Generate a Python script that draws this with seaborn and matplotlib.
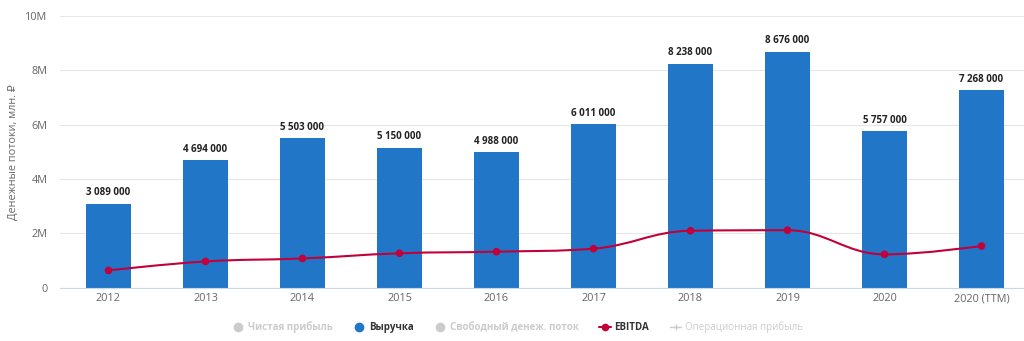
import numpy as np
import pandas as pd
import matplotlib
matplotlib.use("Agg")
import matplotlib.pyplot as plt
from matplotlib.path import Path
from matplotlib.patches import PathPatch
from matplotlib.lines import Line2D
import seaborn as sns

years = ["2012", "2013", "2014", "2015", "2016", "2017", "2018", "2019", "2020", "2020 (TTM)"]
revenue = [3089000, 4694000, 5503000, 5150000, 4988000, 6011000, 8238000, 8676000, 5757000, 7268000]
ebitda = [630000, 960000, 1070000, 1260000, 1320000, 1430000, 2090000, 2110000, 1220000, 1530000]
y_ticks = [0, 2e6, 4e6, 6e6, 8e6, 10e6]
y_tick_labels = ["0", "2M", "4M", "6M", "8M", "10M"]
y_label = "Денежные потоки, млн. ₽"
legend_labels = ["Чистая прибыль", "Выручка", "Свободный денеж. поток", "EBITDA", "Операционная прибыль"]

BAR = "#2176c7"
RED = "#c2003a"
GRAY_TXT = "#666666"
FADED = "#cccccc"

sns.set_theme(style="white")
plt.rcParams["font.family"] = ["Open Sans", "DejaVu Sans"]

fig = plt.figure(figsize=(10.24, 3.41), dpi=100)
ax = fig.add_axes([60/1024, (341-287.5)/341, (1030-60)/1024, (287.5-16)/341])

df = pd.DataFrame({"year": years, "revenue": revenue, "ebitda": ebitda})
sns.barplot(data=df, x="year", y="revenue", color=BAR, width=0.47, saturation=1,
            ax=ax, zorder=2, edgecolor="none")

# data labels
for i, v in enumerate(revenue):
    ax.annotate(f"{v:,}".replace(",", " "), (i, v), xytext=(0, 4), textcoords="offset points",
                ha="center", va="bottom", fontsize=7, fontweight="bold", color="#222222", zorder=5)

# Highcharts-style spline for EBITDA
xs = np.arange(len(ebitda), dtype=float)
ys = np.array(ebitda, dtype=float)
s = 1.5
verts = [(xs[0], ys[0])]
codes = [Path.MOVETO]
lefts, rights = [None]*len(xs), [None]*len(xs)
for i in range(1, len(xs)-1):
    lx = (s*xs[i] + xs[i-1])/(s+1); ly = (s*ys[i] + ys[i-1])/(s+1)
    rx = (s*xs[i] + xs[i+1])/(s+1); ry = (s*ys[i] + ys[i+1])/(s+1)
    corr = ((ry - ly)*(rx - xs[i]))/(rx - lx) + ys[i] - ry
    ly += corr; ry += corr
    if ly > ys[i-1] and ly > ys[i]:
        ly = max(ys[i-1], ys[i]); ry = 2*ys[i] - ly
    elif ly < ys[i-1] and ly < ys[i]:
        ly = min(ys[i-1], ys[i]); ry = 2*ys[i] - ly
    if ry > ys[i+1] and ry > ys[i]:
        ry = max(ys[i+1], ys[i]); ly = 2*ys[i] - ry
    elif ry < ys[i+1] and ry < ys[i]:
        ry = min(ys[i+1], ys[i]); ly = 2*ys[i] - ry
    lefts[i] = (lx, ly); rights[i] = (rx, ry)
for i in range(1, len(xs)):
    c1 = rights[i-1] if rights[i-1] is not None else (xs[i-1], ys[i-1])
    c2 = lefts[i] if lefts[i] is not None else (xs[i], ys[i])
    verts += [c1, c2, (xs[i], ys[i])]
    codes += [Path.CURVE4]*3
ax.add_patch(PathPatch(Path(verts, codes), facecolor="none", edgecolor=RED, lw=1.5, zorder=3))
sns.scatterplot(x=xs, y=ys, color=RED, s=30, edgecolor="none", ax=ax, zorder=4, legend=False)

ax.set_xlim(-0.5, 9.5)
ax.set_ylim(0, 10e6)
ax.set_yticks(y_ticks)
ax.set_yticklabels(y_tick_labels)
ax.grid(axis="y", color="#e6e6e6", lw=0.8, zorder=0)
ax.set_axisbelow(True)
for sp in ["top", "right", "left"]:
    ax.spines[sp].set_visible(False)
ax.spines["bottom"].set_color("#ccd6eb")
ax.spines["bottom"].set_linewidth(0.8)
ax.tick_params(axis="both", length=0, labelsize=7.8, colors=GRAY_TXT)
ax.tick_params(axis="x", pad=4)
ax.tick_params(axis="y", pad=9)
ax.set_xlabel("")
ax.set_ylabel(y_label, fontsize=7.8, color=GRAY_TXT)
ax.yaxis.set_label_coords(-41/970, 0.5)

handles = [
    Line2D([], [], marker="o", ls="none", color=FADED, markersize=6),
    Line2D([], [], marker="o", ls="none", color=BAR, markersize=6),
    Line2D([], [], marker="o", ls="none", color=FADED, markersize=6),
    Line2D([], [], marker="o", ls="-", color=RED, markersize=4.5, lw=1.5),
    Line2D([], [], marker="+", ls="-", color=FADED, markersize=5, lw=1.0),
]
leg = fig.legend(handles, legend_labels, loc="center", bbox_to_anchor=(518/1024, 1-327/341),
                 ncol=5, frameon=False, fontsize=7, handlelength=1.2, handletextpad=0.4,
                 columnspacing=2.1)
for t, c, w in zip(leg.get_texts(), [FADED, "#333333", FADED, "#333333", FADED],
                   ["bold", "bold", "bold", "bold", "normal"]):
    t.set_color(c); t.set_fontweight(w)

fig.savefig("out.png", dpi=100)
